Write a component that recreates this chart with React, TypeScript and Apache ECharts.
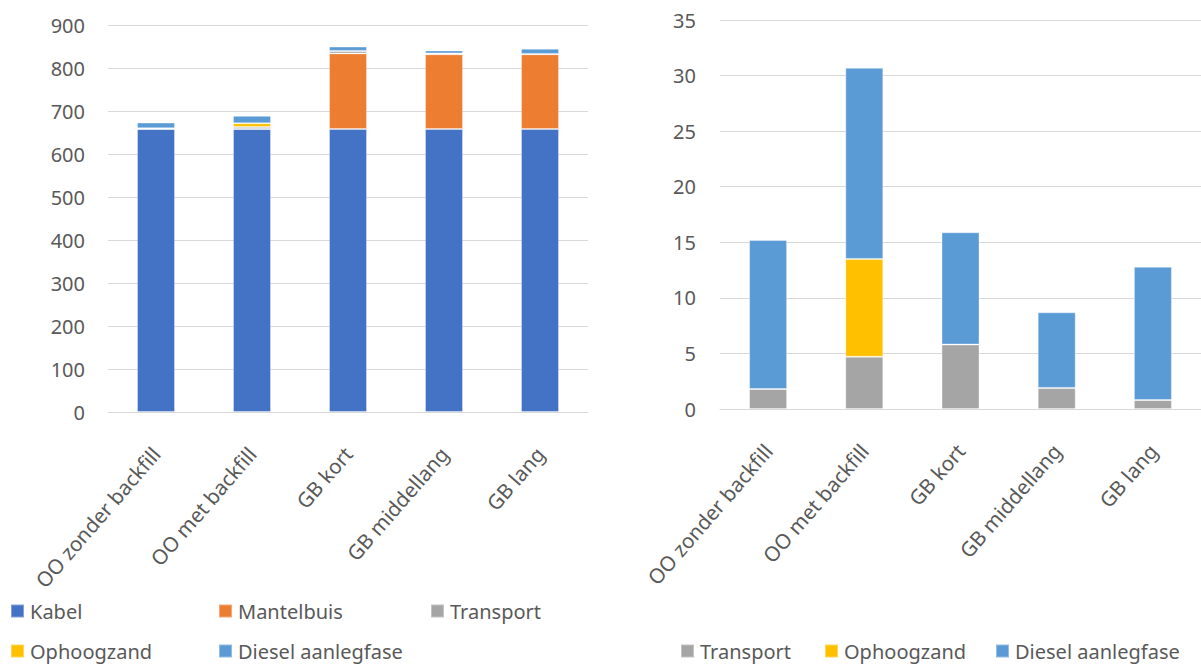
import React, { useEffect, useRef } from "react";
import * as echarts from "echarts";

const categories = ["OO zonder backfill", "OO met backfill", "GB kort", "GB middellang", "GB lang"];

// Left chart (total)
const kabel = [658, 658, 658, 658, 658];
const mantelbuis = [0, 0, 176, 174, 174];
// Shared small components (also in right chart)
const transport = [1.8, 4.7, 5.8, 1.9, 0.8];
const ophoogzand = [0, 8.8, 0, 0, 0];
const diesel = [13.4, 17.2, 10.1, 6.8, 12.0];

const leftTicks = { min: 0, max: 900, interval: 100 };
const rightTicks = { min: 0, max: 35, interval: 5 };

const COLORS: Record<string, string> = {
  Kabel: "#4472C4",
  Mantelbuis: "#ED7D31",
  Transport: "#A5A5A5",
  Ophoogzand: "#FFC000",
  "Diesel aanlegfase": "#5B9BD5",
};

const FONT = "Noto Sans";
const TEXT_COLOR = "#595959";
const GRID_COLOR = "#D9D9D9";

export default function App() {
  const ref = useRef<HTMLDivElement>(null);

  useEffect(() => {
    if (!ref.current) return;
    const chart = echarts.init(ref.current, undefined, { renderer: "svg" });

    const bar = (name: string, data: number[], idx: number, stack: string) => ({
      name,
      type: "bar",
      stack,
      xAxisIndex: idx,
      yAxisIndex: idx,
      data,
      barWidth: 38,
      itemStyle: { color: COLORS[name], borderColor: "rgba(255,255,255,0.35)", borderWidth: 1 },
      emphasis: { disabled: true },
    });

    const xAxis = (gridIndex: number) => ({
      type: "category",
      gridIndex,
      data: categories,
      axisLine: { show: true, lineStyle: { color: GRID_COLOR, width: 1 } },
      axisTick: { show: false },
      axisLabel: {
        rotate: 49,
        margin: 38,
        color: TEXT_COLOR,
        fontFamily: FONT,
        fontSize: 20.5,
        interval: 0,
      },
    });

    const yAxis = (gridIndex: number, t: { min: number; max: number; interval: number }, margin: number) => ({
      type: "value",
      gridIndex,
      min: t.min,
      max: t.max,
      interval: t.interval,
      axisLine: { show: false },
      axisTick: { show: false },
      splitLine: { lineStyle: { color: GRID_COLOR, width: 1 } },
      axisLabel: { color: TEXT_COLOR, fontFamily: FONT, fontSize: 20, margin },
    });

    const legendItem = (name: string, left: number, top: number) => ({
      data: [name],
      left,
      top,
      itemWidth: 13,
      itemHeight: 13,
      icon: "rect",
      padding: 0,
      selectedMode: false,
      textStyle: { color: TEXT_COLOR, fontFamily: FONT, fontSize: 20, padding: [0, 0, 0, 1] },
    });

    chart.setOption({
      animation: false,
      backgroundColor: "#ffffff",
      grid: [
        { left: 108, top: 25, width: 480, height: 387 },
        { left: 720, top: 20, width: 482, height: 389 },
      ],
      xAxis: [xAxis(0), xAxis(1)],
      yAxis: [yAxis(0, leftTicks, 23), yAxis(1, rightTicks, 24)],
      legend: [
        legendItem("Kabel", 10, 601),
        legendItem("Mantelbuis", 218, 601),
        legendItem("Transport", 430, 601),
        legendItem("Ophoogzand", 10, 641),
        legendItem("Diesel aanlegfase", 218, 641),
        legendItem("Transport", 680, 641),
        legendItem("Ophoogzand", 824, 641),
        legendItem("Diesel aanlegfase", 995, 641),
      ],
      series: [
        bar("Kabel", kabel, 0, "L"),
        bar("Mantelbuis", mantelbuis, 0, "L"),
        bar("Transport", transport, 0, "L"),
        bar("Ophoogzand", ophoogzand, 0, "L"),
        bar("Diesel aanlegfase", diesel, 0, "L"),
        bar("Transport", transport, 1, "R"),
        bar("Ophoogzand", ophoogzand, 1, "R"),
        bar("Diesel aanlegfase", diesel, 1, "R"),
      ],
    });

    return () => chart.dispose();
  }, []);

  return (
    <div
      ref={ref}
      style={{ position: "fixed", left: 0, top: 0, width: 1201, height: 664, background: "#fff" }}
    />
  );
}
